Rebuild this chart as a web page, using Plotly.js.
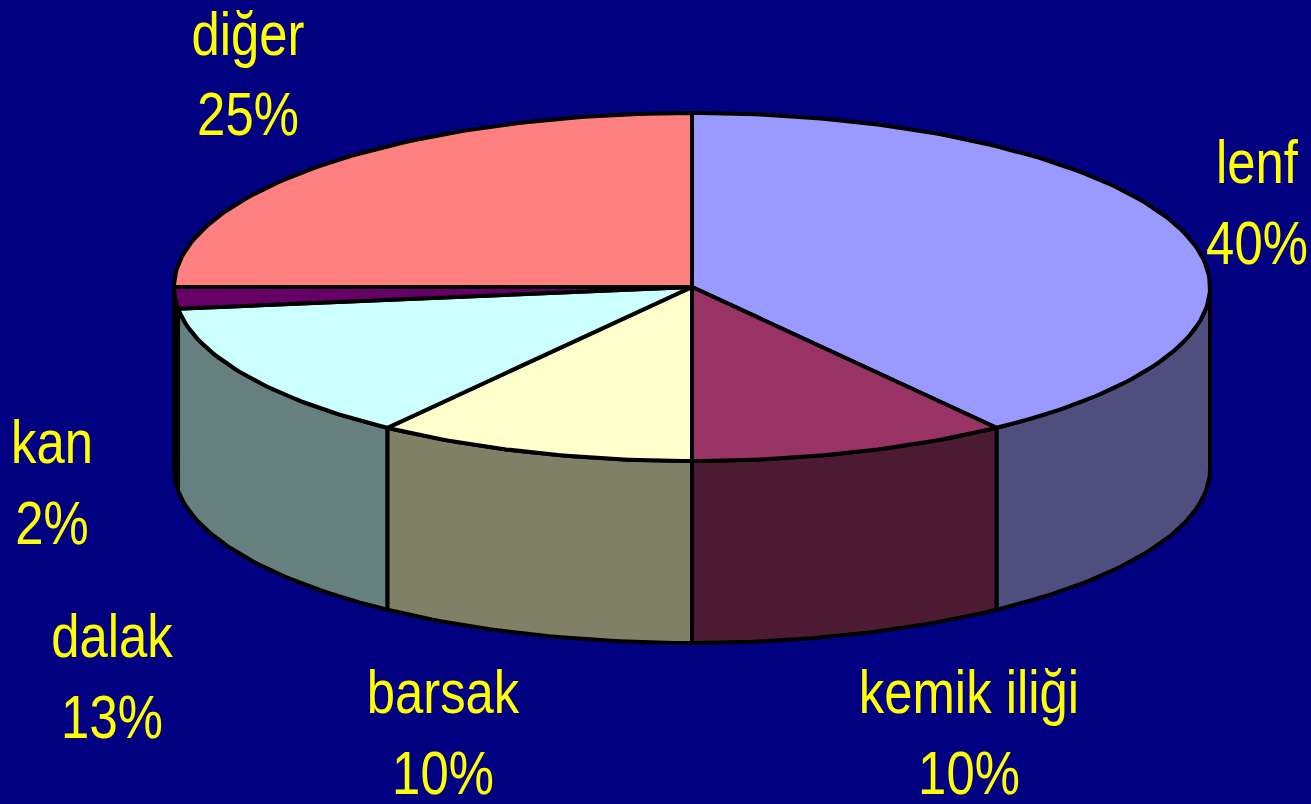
<!DOCTYPE html>
<html>
<head>
<meta charset="utf-8">
<script src="https://cdn.plot.ly/plotly-3.0.1.min.js"></script>
<style>html,body{margin:0;padding:0;background:#000080;overflow:hidden}#c{width:1311px;height:804px}</style>
</head>
<body>
<div id="c"></div>
<script>
const categories = ["lenf", "kemik iliği", "barsak", "dalak", "kan", "diğer"];
const shares = [40, 10, 10, 13, 2, 25];
const topColors = ["#9999FF", "#993366", "#FFFFCC", "#CCFFFF", "#660066", "#FF8080"];
const sideColors = ["#4F4F7F", "#4D1A33", "#808066", "#668080", "#330033", "#804040"];
const labelX = [1257, 969, 443, 112, 52, 248];
const labelY = [168, 698, 698, 642, 448, 39];
const lineGap = 81;
const textSqueeze = 0.82;

const cx = 692, cy = 287, rx = 518, ry = 174, depth = 182;
const total = shares.reduce((a, b) => a + b, 0);
const px = d => cx + rx * Math.sin(d * Math.PI / 180);
const py = d => cy - ry * Math.cos(d * Math.PI / 180);

const arc = (a, b) => {
  const pts = [], n = Math.max(2, Math.ceil(Math.abs(b - a)));
  for (let i = 0; i <= n; i++) pts.push(a + (b - a) * i / n);
  return pts;
};

const traces = [];
const poly = (xs, ys, fill, width) => traces.push({
  type: "scatter", mode: "lines", x: xs, y: ys, fill: "toself", fillcolor: fill,
  line: {color: "#000000", width: width, shape: "linear"}, hoverinfo: "skip", showlegend: false
});

let acc = 0;
const spans = shares.map(v => { const a = acc * 360 / total; acc += v; return [a, acc * 360 / total]; });

// Sides: only the front half is visible. Paint back to front.
const sideOrder = [0, 4, 3, 1, 2];
sideOrder.forEach(i => {
  const a = Math.max(spans[i][0], 90), b = Math.min(spans[i][1], 270);
  if (b <= a) return;
  const t = arc(a, b), r = t.slice().reverse();
  poly(t.map(px).concat(r.map(px), [px(a)]),
       t.map(py).concat(r.map(d => py(d) + depth), [py(a)]),
       sideColors[i], 4);
});

// Top faces
spans.forEach((s, i) => {
  const t = arc(s[0], s[1]);
  poly([cx].concat(t.map(px), [cx]), [cy].concat(t.map(py), [cy]), topColors[i], 4);
});

// Labels
const font = {family: "'Liberation Sans',Arial,sans-serif", size: 62, color: "#FFFF00"};
traces.push({
  type: "scatter", mode: "text", x: labelX, y: labelY, text: categories,
  textposition: "middle center", textfont: font, cliponaxis: false, hoverinfo: "skip", showlegend: false
});
traces.push({
  type: "scatter", mode: "text", x: labelX, y: labelY.map(y => y + lineGap),
  text: shares.map(v => v + "%"),
  textposition: "middle center", textfont: font, cliponaxis: false, hoverinfo: "skip", showlegend: false
});

Plotly.newPlot("c", traces, {
  width: 1311, height: 804, margin: {l: 0, r: 0, t: 0, b: 0},
  paper_bgcolor: "#000080", plot_bgcolor: "#000080", showlegend: false,
  xaxis: {range: [0, 1311], visible: false, fixedrange: true},
  yaxis: {range: [804, 0], visible: false, fixedrange: true}
}, {displayModeBar: false, staticPlot: true}).then(gd => {
  // The reference's lettering is horizontally condensed: narrow each label about its own centre.
  gd.querySelectorAll(".textpoint text").forEach(t => {
    const x = parseFloat(t.getAttribute("x"));
    t.setAttribute("transform", `translate(${x} 0) scale(${textSqueeze} 1) translate(${-x} 0)`);
  });
});
</script>
</body>
</html>
